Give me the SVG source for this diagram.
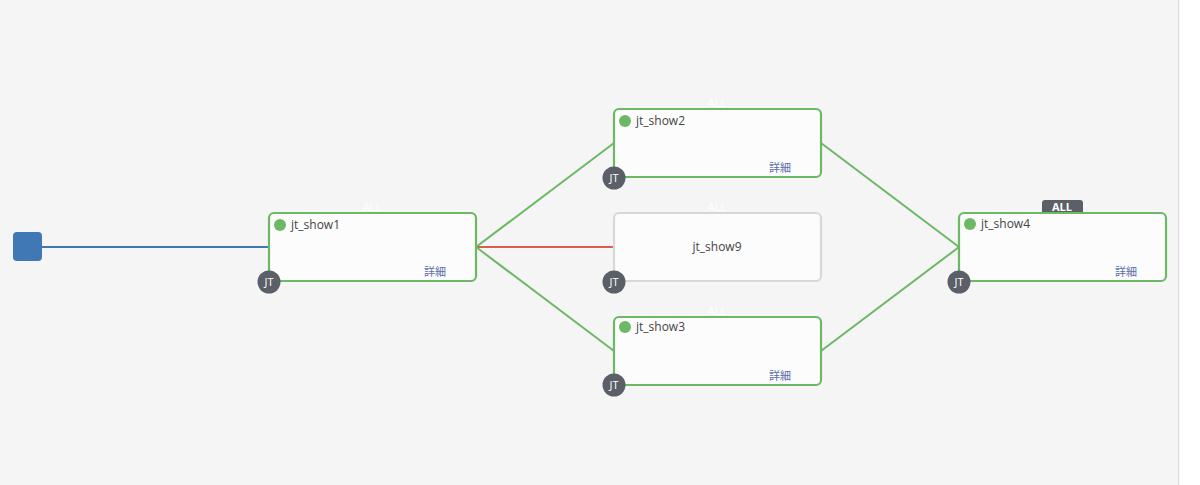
<svg xmlns="http://www.w3.org/2000/svg" width="1200" height="485" viewBox="0 0 1200 485">
<style>
.bg{fill:#f5f5f5}
.node{fill:#fcfcfc;stroke:#6db865;stroke-width:2.2}
.node.gray{stroke:#d8d8d8}
.dot{fill:#6db865}
.name{font-family:"Open Sans","Noto Sans",sans-serif;font-size:12px;fill:#444}
.detail{font-family:"Open Sans","Noto Sans CJK JP",sans-serif;font-size:11px;fill:#5a6ea8}
.jt{fill:#5b5f67}
.jtt{font-family:"Open Sans","Noto Sans",sans-serif;font-size:11px;fill:#fff;text-anchor:middle}
.all{font-family:"Open Sans","Noto Sans",sans-serif;font-size:11px;fill:#fff;text-anchor:middle}
.allb{font-family:"Open Sans","Noto Sans",sans-serif;font-size:11px;font-weight:bold;fill:#fff;text-anchor:middle}
.ok{stroke:#6db865;stroke-width:2;fill:none}
.fail{stroke:#d9604f;stroke-width:2;fill:none}
.start{stroke:#3f78b5;stroke-width:2;fill:none}
</style>
<rect class="bg" x="0" y="0" width="1178" height="485"/>
<rect x="1178" y="0" width="1.5" height="485" fill="#dcdcdc"/>
<rect x="1179.5" y="0" width="20.5" height="485" fill="#ffffff"/>
<g id="connectors">
<line class="start" x1="42" y1="247" x2="269" y2="247"/>
<line class="ok" x1="476" y1="247" x2="614" y2="143"/>
<line class="fail" x1="476" y1="247" x2="614" y2="247"/>
<line class="ok" x1="476" y1="247" x2="614" y2="351"/>
<line class="ok" x1="821" y1="143" x2="959" y2="247"/>
<line class="ok" x1="821" y1="351" x2="959" y2="247"/>
</g>
<g id="start">
<rect x="13" y="232" width="29" height="29" rx="4" fill="#3f78b5"/>
</g>
<g id="jt_show1">
<text class="all" x="372" y="211">ALL</text>
<rect class="node" x="269" y="213" width="207" height="68" rx="5"/>
<circle class="dot" cx="280" cy="225" r="6"/>
<text class="name" x="291" y="229">jt_show1</text>
<text class="detail" x="424" y="276">詳細</text>
<circle class="jt" cx="269" cy="282" r="11.5"/>
<text class="jtt" x="269" y="286">JT</text>
</g>
<g id="jt_show2">
<text class="all" x="717" y="107">ALL</text>
<rect class="node" x="614" y="109" width="207" height="68" rx="5"/>
<circle class="dot" cx="625" cy="121" r="6"/>
<text class="name" x="636" y="125">jt_show2</text>
<text class="detail" x="769" y="172">詳細</text>
<circle class="jt" cx="614" cy="178" r="11.5"/>
<text class="jtt" x="614" y="182">JT</text>
</g>
<g id="jt_show9">
<text class="all" x="717" y="211">ALL</text>
<rect class="node gray" x="614" y="213" width="207" height="68" rx="5"/>
<text class="name" x="717" y="251" text-anchor="middle">jt_show9</text>
<circle class="jt" cx="614" cy="282" r="11.5"/>
<text class="jtt" x="614" y="286">JT</text>
</g>
<g id="jt_show3">
<text class="all" x="717" y="315">ALL</text>
<rect class="node" x="614" y="317" width="207" height="68" rx="5"/>
<circle class="dot" cx="625" cy="327" r="6"/>
<text class="name" x="636" y="331">jt_show3</text>
<text class="detail" x="769" y="380">詳細</text>
<circle class="jt" cx="614" cy="385" r="11.5"/>
<text class="jtt" x="614" y="389">JT</text>
</g>
<g id="jt_show4">
<path d="M1042,213 V203 a3,3 0 0 1 3,-3 H1080 a3,3 0 0 1 3,3 V213 Z" fill="#5b5f67"/>
<text class="allb" x="1062" y="210.5">ALL</text>
<rect class="node" x="959" y="213" width="207" height="68" rx="5"/>
<circle class="dot" cx="970" cy="224" r="6"/>
<text class="name" x="981" y="228">jt_show4</text>
<text class="detail" x="1115" y="276">詳細</text>
<circle class="jt" cx="959" cy="282" r="11.5"/>
<text class="jtt" x="959" y="286">JT</text>
</g>
</svg>
